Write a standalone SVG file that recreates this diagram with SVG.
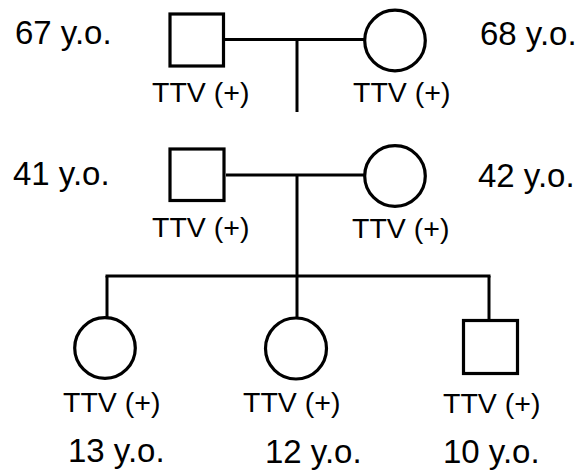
<svg xmlns="http://www.w3.org/2000/svg" width="584" height="471" viewBox="0 0 584 471">
<style>
.s{fill:none;stroke:#000;stroke-width:3.2}
.l{fill:none;stroke:#000;stroke-width:3}
.age{font-family:"Liberation Sans",Arial,Helvetica,sans-serif;font-size:33px;fill:#000}
.ttv{font-family:"Liberation Sans",Arial,Helvetica,sans-serif;font-size:28.5px;fill:#000}
</style>
<rect width="584" height="471" fill="#fff"/>
<g id="connectors">
<line class="l" x1="225" y1="39.5" x2="364" y2="39.5"/>
<line class="l" x1="297" y1="39.5" x2="297" y2="112"/>
<line class="l" x1="226" y1="175" x2="364" y2="175"/>
<line class="l" x1="297" y1="175" x2="297" y2="318"/>
<line class="l" x1="105.5" y1="276" x2="490.5" y2="276"/>
<line class="l" x1="107" y1="276" x2="107" y2="318"/>
<line class="l" x1="489" y1="276" x2="489" y2="320"/>
</g>
<g id="grandfather">
<rect class="s" x="170" y="14" width="53.5" height="52"/>
<text class="age" x="15" y="44">67 y.o.</text>
<text class="ttv" x="152" y="102">TTV (+)</text>
</g>
<g id="grandmother">
<circle class="s" cx="395" cy="40.5" r="30.3"/>
<text class="age" x="480" y="45">68 y.o.</text>
<text class="ttv" x="353" y="102">TTV (+)</text>
</g>
<g id="father">
<rect class="s" x="170" y="149" width="54" height="51.5"/>
<text class="age" x="13" y="185">41 y.o.</text>
<text class="ttv" x="152" y="237">TTV (+)</text>
</g>
<g id="mother">
<circle class="s" cx="395" cy="176" r="30.3"/>
<text class="age" x="478" y="187">42 y.o.</text>
<text class="ttv" x="352" y="238">TTV (+)</text>
</g>
<g id="child1">
<circle class="s" cx="105" cy="348" r="30.3"/>
<text class="ttv" x="63" y="412">TTV (+)</text>
<text class="age" x="68" y="462">13 y.o.</text>
</g>
<g id="child2">
<circle class="s" cx="296" cy="348.5" r="30.5"/>
<text class="ttv" x="243" y="412">TTV (+)</text>
<text class="age" x="265" y="463">12 y.o.</text>
</g>
<g id="child3">
<rect class="s" x="463.5" y="320.5" width="54" height="53"/>
<text class="ttv" x="443" y="413">TTV (+)</text>
<text class="age" x="443" y="463">10 y.o.</text>
</g>
</svg>
